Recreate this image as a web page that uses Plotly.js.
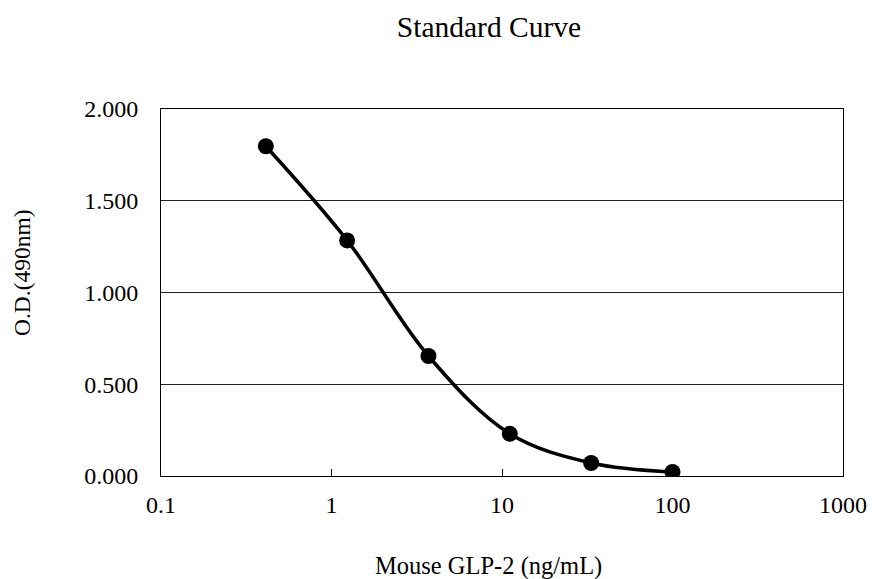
<!DOCTYPE html>
<html>
<head>
<meta charset="utf-8">
<script src="https://cdn.plot.ly/plotly-3.0.1.min.js"></script>
<style>html,body{margin:0;padding:0;background:#fff;}#chart{width:872px;height:579px;}</style>
</head>
<body>
<div id="chart"></div>
<script>
var concentrations = [0.412, 1.235, 3.704, 11.11, 33.33, 100];
var odValues = [1.797, 1.284, 0.654, 0.230, 0.071, 0.022];
var xTickVals = [0.1, 1, 10, 100, 1000];
var xTickText = ["0.1", "1", "10", "100", "1000"];
var yTickVals = [0, 0.5, 1, 1.5, 2];
var yTickText = ["0.000", "0.500", "1.000", "1.500", "2.000"];

var fontFam = "Liberation Serif, Times New Roman, serif";

var trace = {
  x: concentrations,
  y: odValues,
  type: "scatter",
  mode: "lines+markers",
  line: {color: "#000000", width: 3.5, shape: "spline", smoothing: 1},
  marker: {color: "#000000", size: 16},
  showlegend: false,
  hoverinfo: "x+y"
};

var layout = {
  width: 872,
  height: 579,
  margin: {l: 161, r: 29, t: 109, b: 103},
  paper_bgcolor: "#ffffff",
  plot_bgcolor: "#ffffff",
  font: {family: fontFam, color: "#000000", size: 24},
  showlegend: false,
  title: {text: "Standard Curve", font: {family: fontFam, size: 29.5, color: "#000000"},
          x: 489/872, xanchor: "center", xref: "container", y: 1 - 27/579, yanchor: "middle", yref: "container"},
  xaxis: {
    type: "log",
    range: [-1, 3],
    tickvals: xTickVals,
    ticktext: xTickText,
    ticks: "inside",
    ticklen: 7,
    tickwidth: 1,
    tickcolor: "#000000",
    showline: true,
    linecolor: "#000000",
    linewidth: 1,
    mirror: true,
    showgrid: false,
    zeroline: false,
    ticklabelstandoff: 7,
    tickfont: {family: fontFam, size: 24, color: "#000000"}
  },
  yaxis: {
    range: [0, 2],
    tickvals: yTickVals,
    ticktext: yTickText,
    ticks: "",
    showline: true,
    linecolor: "#000000",
    linewidth: 1,
    mirror: true,
    showgrid: true,
    gridcolor: "#222222",
    gridwidth: 1,
    zeroline: false,
    ticklabelstandoff: 17,
    tickfont: {family: fontFam, size: 24, color: "#000000"}
  },
  annotations: [
    {text: "Mouse GLP-2 (ng/mL)", xref: "paper", yref: "paper", x: (488-161)/682, y: -(566-476)/367,
     xanchor: "center", yanchor: "middle", showarrow: false, font: {family: fontFam, size: 24.5, color: "#000000"}},
    {text: "O.D.(490nm)", xref: "paper", yref: "paper", x: -(161-22)/682, y: (476-273)/367, textangle: -90,
     xanchor: "center", yanchor: "middle", showarrow: false, font: {family: fontFam, size: 23.5, color: "#000000"}}
  ]
};

Plotly.newPlot("chart", [trace], layout, {displayModeBar: false, staticPlot: true});
</script>
</body>
</html>
